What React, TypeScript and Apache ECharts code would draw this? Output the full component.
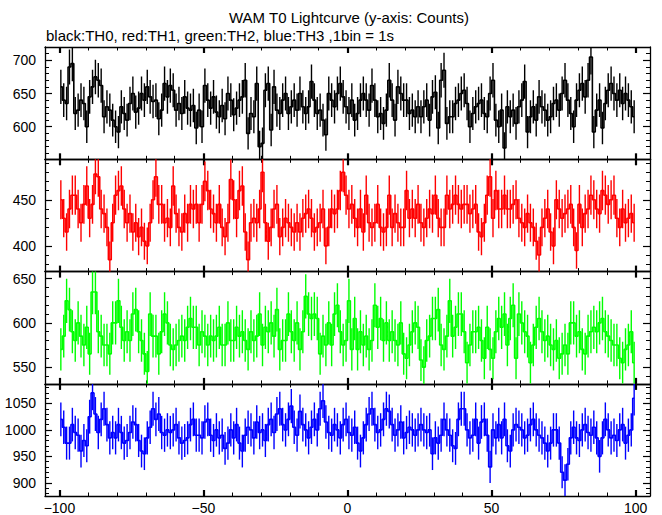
import React, { useEffect, useRef } from "react";
import * as echarts from "echarts";

// 1 bin = 1 s, first bin starts at t = -100 s
const TIME_START = -100;
const BIN_WIDTH = 1;

// TH0 (black) counts per bin, t = -100 .. 99
const TH0 = [
  660, 640, 635, 690, 695, 620, 625, 640, 635, 600,
  645, 660, 675, 670, 662, 615, 630, 625, 610, 600,
  592, 630, 620, 610, 635, 650, 622, 628, 650, 640,
  660, 645, 638, 640, 612, 625, 665, 645, 662, 655,
  625, 635, 620, 645, 628, 625, 632, 598, 625, 600,
  662, 640, 628, 645, 622, 615, 632, 612, 650, 640,
  618, 628, 640, 645, 670, 590, 620, 615, 665, 570,
  575, 655, 665, 595, 660, 625, 620, 640, 650, 620,
  630, 640, 625, 650, 630, 620, 630, 668, 640, 620,
  625, 610, 588, 650, 640, 630, 650, 665, 645, 630,
  620, 640, 610, 620, 640, 650, 640, 625, 662, 640,
  615, 620, 605, 625, 670, 640, 610, 660, 650, 640,
  640, 620, 625, 615, 630, 615, 630, 640, 610, 645,
  652, 598, 670, 685, 605, 615, 615, 635, 640, 650,
  655, 635, 600, 620, 630, 635, 640, 620, 615, 650,
  670, 610, 600, 625, 568, 630, 615, 625, 605, 630,
  640, 668, 592, 615, 630, 610, 645, 630, 625, 610,
  615, 635, 640, 625, 650, 670, 640, 620, 600, 640,
  655, 665, 645, 670, 705, 592, 625, 640, 598, 635,
  655, 665, 650, 640, 655, 635, 650, 640, 630, 615,
];

// TH1 (red)
const TH1 = [
  450, 430, 415, 440, 455, 455, 440, 425, 445, 465,
  430, 445, 478, 475, 440, 435, 420, 385, 425, 455,
  460, 465, 440, 425, 435, 415, 425, 410, 420, 405,
  400, 425, 450, 475, 445, 445, 425, 430, 420, 465,
  435, 420, 415, 435, 425, 445, 440, 445, 425, 445,
  470, 460, 440, 435, 425, 445, 420, 410, 425, 472,
  450, 430, 460, 465, 415, 385, 425, 430, 425, 440,
  480, 425, 405, 420, 440, 445, 410, 420, 430, 425,
  420, 415, 425, 415, 430, 435, 440, 430, 415, 420,
  425, 440, 400, 420, 440, 435, 440, 460, 480, 455,
  440, 445, 430, 420, 440, 415, 455, 425, 420, 425,
  445, 420, 415, 420, 455, 420, 435, 425, 420, 420,
  460, 430, 440, 430, 445, 425, 420, 430, 440, 435,
  455, 430, 420, 420, 455, 440, 445, 455, 445, 440,
  445, 445, 435, 440, 445, 415, 410, 425, 455, 475,
  430, 460, 440, 440, 455, 440, 440, 445, 450, 430,
  425, 420, 435, 425, 420, 405, 390, 420, 430, 440,
  415, 400, 450, 440, 430, 435, 440, 445, 420, 395,
  445, 420, 435, 440, 455, 450, 440, 435, 460, 455,
  445, 450, 455, 430, 420, 440, 425, 430, 435, 425,
];

// TH2 (green)
const TH2 = [
  570, 585, 625, 615, 590, 580, 600, 585, 575, 595,
  565, 635, 635, 590, 585, 575, 575, 565, 600, 600,
  625, 595, 580, 590, 580, 610, 615, 590, 580, 565,
  545, 610, 585, 585, 565, 590, 610, 600, 575, 570,
  575, 580, 585, 580, 595, 605, 595, 595, 575, 590,
  585, 575, 585, 580, 585, 595, 575, 575, 600, 580,
  580, 595, 585, 590, 580, 570, 590, 580, 585, 610,
  575, 595, 590, 600, 585, 615, 570, 580, 580, 610,
  590, 580, 600, 570, 590, 630, 610, 605, 610, 605,
  565, 585, 575, 600, 575, 610, 620, 590, 575, 580,
  625, 570, 605, 570, 590, 575, 585, 570, 580, 620,
  595, 605, 580, 600, 580, 590, 580, 575, 600, 565,
  560, 575, 590, 600, 595, 558, 550, 580, 585, 605,
  605, 615, 575, 570, 585, 625, 585, 595, 610, 610,
  590, 555, 575, 590, 590, 595, 580, 560, 595, 570,
  560, 590, 605, 595, 610, 575, 605, 620, 560, 610,
  600, 590, 585, 555, 575, 595, 605, 590, 580, 585,
  575, 570, 580, 560, 565, 575, 565, 600, 600, 585,
  590, 570, 565, 585, 590, 595, 590, 600, 605, 590,
  585, 580, 575, 575, 560, 555, 570, 575, 590, 555,
];

// TH3 (blue)
const TH3 = [
  1020, 1005, 975, 975, 1010, 995, 990, 960, 980, 970,
  1025, 1070, 1030, 995, 1020, 1040, 1010, 985, 995, 985,
  1010, 995, 975, 980, 995, 1015, 1010, 980, 960, 955,
  985, 1005, 1040, 1020, 1030, 995, 990, 1000, 995, 1000,
  1010, 985, 975, 980, 985, 1010, 1020, 990, 990, 985,
  1015, 1020, 990, 980, 1000, 985, 990, 965, 975, 1000,
  985, 1010, 975, 960, 990, 1005, 1000, 985, 1015, 995,
  1000, 980, 1010, 1020, 995, 1030, 1040, 1010, 1000, 1020,
  1045, 1005, 990, 1035, 1010, 1000, 985, 1005, 1020, 1000,
  1040, 1055, 1015, 995, 990, 1010, 1000, 985, 1010, 1020,
  995, 990, 1005, 975, 960, 985, 1010, 1030, 1040, 1010,
  995, 1000, 1020, 1040, 1035, 1010, 990, 1000, 1015, 985,
  995, 1005, 1000, 990, 1000, 1010, 1000, 995, 1000, 955,
  985, 975, 990, 1020, 1000, 990, 970, 965, 1020, 1040,
  1040, 1000, 985, 990, 1020, 975, 1015, 1020, 990, 930,
  1000, 985, 1010, 985, 1020, 970, 960, 1000, 1010, 1005,
  1000, 985, 990, 1010, 1020, 1000, 990, 985, 975, 960,
  975, 1000, 1000, 975, 920, 905, 935, 985, 1005, 985,
  980, 1000, 1010, 995, 990, 1005, 985, 950, 985, 1020,
  1000, 985, 990, 980, 1000, 1010, 975, 990, 1000, 1060,
];

const X_MAJOR = [-100, -50, 0, 50, 100];
const X_MINOR = [-100, -90, -80, -70, -60, -50, -40, -30, -20, -10, 0, 10, 20, 30, 40, 50, 60, 70, 80, 90, 100];

const Y0_MAJOR = [600, 650, 700];
const Y0_MINOR = [560, 570, 580, 590, 600, 610, 620, 630, 640, 650, 660, 670, 680, 690, 700, 710];
const Y1_MAJOR = [400, 450];
const Y1_MINOR = [380, 390, 400, 410, 420, 430, 440, 450, 460, 470, 480, 490];
const Y2_MAJOR = [550, 600, 650];
const Y2_MINOR = [540, 550, 560, 570, 580, 590, 600, 610, 620, 630, 640, 650];
const Y3_MAJOR = [900, 950, 1000, 1050];
const Y3_MINOR = [880, 890, 900, 910, 920, 930, 940, 950, 960, 970, 980, 990, 1000, 1010, 1020, 1030, 1040, 1050, 1060, 1070, 1080];

const TITLE = "WAM T0 Lightcurve (y-axis: Counts)";
const SUBTITLE = "black:TH0, red:TH1, green:TH2, blue:TH3 ,1bin = 1s";

const FONT = "'Liberation Sans', Arial, Helvetica, sans-serif";

const PANELS = [
  { values: TH0, color: "#000000", min: 551, max: 720, major: Y0_MAJOR, minor: Y0_MINOR },
  { values: TH1, color: "#ff0000", min: 372, max: 494, major: Y1_MAJOR, minor: Y1_MINOR },
  { values: TH2, color: "#00ff00", min: 531, max: 658, major: Y2_MAJOR, minor: Y2_MINOR },
  { values: TH3, color: "#0000ff", min: 875, max: 1087, major: Y3_MAJOR, minor: Y3_MINOR },
];

const GRID_TOPS = [47, 159.3, 271.6, 383.9];
const GRID_H = 112.3;

function buildOption() {
  const grids: any[] = [];
  const xAxes: any[] = [];
  const yAxes: any[] = [];
  const series: any[] = [];

  PANELS.forEach((p, gi) => {
    grids.push({ left: 45, width: 605, top: GRID_TOPS[gi], height: GRID_H, containLabel: false });
    const xBase = { type: "value", gridIndex: gi, min: -105, max: 105, splitLine: { show: false } };
    const line = { show: true, onZero: false, lineStyle: { color: "#000", width: 1.3 } };
    for (const pos of ["bottom", "top"]) {
      xAxes.push({
        ...xBase,
        position: pos,
        axisLine: line,
        axisTick: { show: true, inside: true, length: 6, lineStyle: { color: "#000", width: 2.2 }, customValues: X_MAJOR },
        axisLabel: {
          show: gi === 3 && pos === "bottom",
          customValues: X_MAJOR,
          color: "#000",
          fontSize: 14,
          fontFamily: FONT,
          margin: 5,
          formatter: (v: number) => String(v).replace("-", "\u2212"),
        },
      });
      xAxes.push({
        ...xBase,
        position: pos,
        axisLine: { show: false, onZero: false },
        axisTick: { show: true, inside: true, length: 3.5, lineStyle: { color: "#000", width: 1 }, customValues: X_MINOR },
        axisLabel: { show: false },
      });
    }
    const yBase = { type: "value", gridIndex: gi, min: p.min, max: p.max, splitLine: { show: false } };
    for (const pos of ["left", "right"]) {
      yAxes.push({
        ...yBase,
        position: pos,
        axisLine: line,
        axisTick: { show: true, inside: true, length: 7, lineStyle: { color: "#000", width: 1.2 }, customValues: p.major },
        axisLabel: {
          show: pos === "left",
          customValues: p.major,
          color: "#000",
          fontSize: 14,
          fontFamily: FONT,
          margin: 9,
          formatter: (v: number) => String(v),
        },
      });
      yAxes.push({
        ...yBase,
        position: pos,
        axisLine: { show: false, onZero: false },
        axisTick: { show: true, inside: true, length: 4, lineStyle: { color: "#000", width: 1 }, customValues: p.minor },
        axisLabel: { show: false },
      });
    }

    const centers = p.values.map((v, i) => [TIME_START + (i + 0.5) * BIN_WIDTH, v]);
    const errData = p.values.map((v, i) => [TIME_START + (i + 0.5) * BIN_WIDTH, v, Math.sqrt(v)]);
    const color = p.color;
    series.push({
      type: "custom",
      xAxisIndex: gi * 4,
      yAxisIndex: gi * 4,
      data: errData,
      clip: true,
      silent: true,
      encode: { x: 0, y: 1 },
      renderItem: (params: any, api: any) => {
        const x = api.value(0);
        const v = api.value(1);
        const e = api.value(2);
        const a = api.coord([x, v - e]);
        const b = api.coord([x, v + e]);
        return {
          type: "line",
          shape: { x1: a[0], y1: a[1], x2: b[0], y2: b[1] },
          style: { stroke: color, lineWidth: 1.4 },
        };
      },
    });
    series.push({
      type: "line",
      xAxisIndex: gi * 4,
      yAxisIndex: gi * 4,
      data: centers,
      step: "middle",
      symbol: "none",
      showSymbol: false,
      clip: true,
      silent: true,
      lineStyle: { color, width: 1.6 },
    });
  });

  return {
    animation: false,
    backgroundColor: "#ffffff",
    grid: grids,
    xAxis: xAxes,
    yAxis: yAxes,
    series,
    graphic: [
      {
        type: "text",
        x: 349,
        y: 17,
        style: { text: TITLE, fill: "#000", font: `15px ${FONT}`, textAlign: "center", textVerticalAlign: "middle" },
      },
      {
        type: "text",
        x: 46,
        y: 35,
        style: { text: SUBTITLE, fill: "#000", font: `15px ${FONT}`, textAlign: "left", textVerticalAlign: "middle" },
      },
    ],
  };
}

export default function App() {
  const ref = useRef<HTMLDivElement>(null);
  useEffect(() => {
    const chart = echarts.init(ref.current!, null, { renderer: "svg" });
    chart.setOption(buildOption() as any);
    return () => chart.dispose();
  }, []);
  return (
    <div
      ref={ref}
      style={{ position: "fixed", left: 0, top: 0, width: 662, height: 515, background: "#fff" }}
    />
  );
}
